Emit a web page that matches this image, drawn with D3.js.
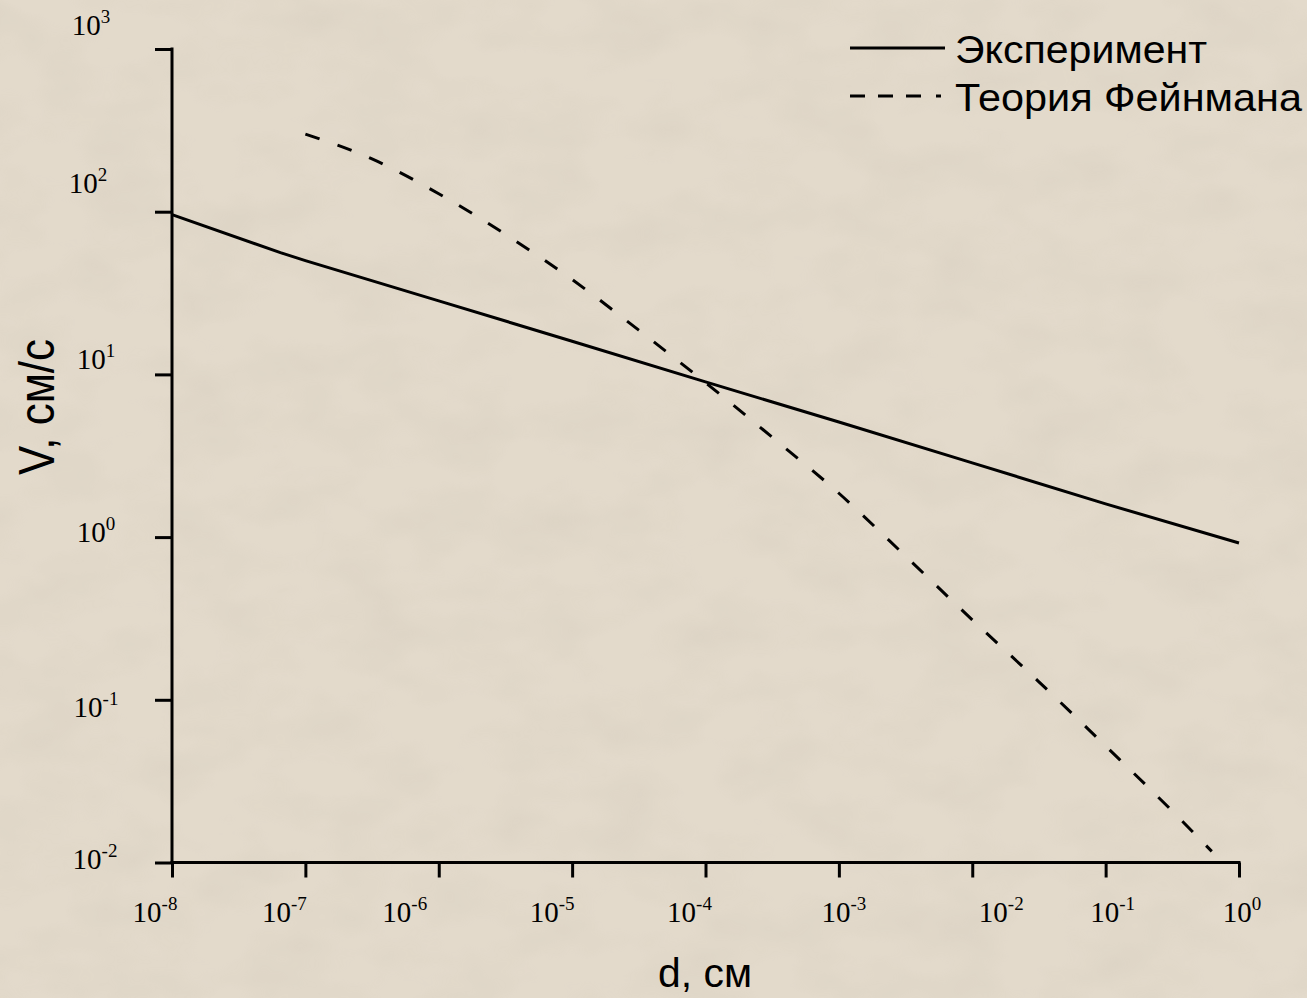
<!DOCTYPE html>
<html>
<head>
<meta charset="utf-8">
<script src="https://cdn.jsdelivr.net/npm/d3@7"></script>
<style>
  html, body { margin: 0; padding: 0; background: #e2d9ca; }
  svg { display: block; }
</style>
</head>
<body>
<svg id="chart" width="1307" height="998"></svg>
<script>
// Measured drift velocity V (cm/s) against distance d (cm)
const expD = [1e-8, 6.5e-8, 1e-7, 1e-6, 1e-5, 1e-4, 1e-3, 1e-2, 1e-1, 1];
const expV = [96, 56, 50, 28.3, 16.0, 9.0, 5.1, 2.86, 1.6, 0.92];

// Feynman's theoretical prediction
const feyD = [1e-7, 3.16e-7, 1e-6, 3.16e-6, 1e-5, 3.16e-5, 1e-4, 3.16e-4, 1e-3,
              3.16e-3, 1e-2, 3.16e-2, 1e-1, 3.16e-1, 0.625];
const feyV = [300, 211, 129, 72.6, 38.3, 18.7, 8.9, 4.11, 1.86,
              0.764, 0.31, 0.129, 0.052, 0.0207, 0.0117];

// Decade ticks
const xTicks = [1e-8, 1e-7, 1e-6, 1e-5, 1e-4, 1e-3, 1e-2, 1e-1, 1];
const xExp = ["-8", "-7", "-6", "-5", "-4", "-3", "-2", "-1", "0"];
const yTicks = [1e-2, 1e-1, 1, 10, 100, 1000];
const yExp = ["-2", "-1", "0", "1", "2", "3"];

const seriesNames = ["Эксперимент", "Теория Фейнмана"];
const xTitle = "d, см";
const yTitle = "V, см/с";

// Hand placement of the tick captions relative to their ticks (px)
const xLabelNudge = [-17, -21, -34, -20, -16, 5, 29, 7, 3];
const yLabelNudge = [[-2, 6], [-1, 17], [-1, 5], [-1, -5], [-9, -19], [-6, -14]];

const svg = d3.select("#chart");
const W = 1307, H = 998;

// paper-like mottled backdrop
const defs = svg.append("defs");
const f = defs.append("filter").attr("id", "paper")
  .attr("x", 0).attr("y", 0).attr("width", "100%").attr("height", "100%");
f.append("feTurbulence").attr("type", "fractalNoise")
  .attr("baseFrequency", "0.012 0.02").attr("numOctaves", 3).attr("seed", 7);
f.append("feColorMatrix").attr("type", "matrix")
  .attr("values", "0 0 0 0 0.55  0 0 0 0 0.5  0 0 0 0 0.42  0 0 0 -0.9 0.55");
svg.append("rect").attr("width", W).attr("height", H).attr("fill", "#e3dacb");
svg.append("rect").attr("width", W).attr("height", H).attr("filter", "url(#paper)").attr("opacity", 0.4);

const x = d3.scaleLog().domain([1e-8, 1]).range([172, 1239]);
const y = d3.scaleLog().domain([1e-2, 1e3]).range([862.5, 49]);

// axes
const gx = svg.append("g").attr("transform", `translate(0,${y.range()[0]})`)
  .call(d3.axisBottom(x).tickValues(xTicks).tickFormat("").tickSize(15).tickSizeOuter(0));
const gy = svg.append("g").attr("transform", `translate(${x.range()[0]},0)`)
  .call(d3.axisLeft(y).tickValues(yTicks).tickFormat("").tickSize(17).tickSizeOuter(0));
[gx, gy].forEach(g => {
  g.select(".domain").attr("stroke", "#000").attr("stroke-width", 3);
  g.selectAll(".tick line").attr("stroke", "#000").attr("stroke-width", 3);
});
gx.select(".domain").attr("d", `M${x.range()[0] - 1.5},0H${x.range()[1] + 1.5}`);
gy.select(".domain").attr("d", `M0,${y.range()[1] - 1.5}V${y.range()[0] + 1.5}`);

// tick captions: 10 with a raised exponent
function power(sel, exp) {
  sel.append("tspan").text("10");
  sel.append("tspan").attr("dy", -12).attr("font-size", 19).text(exp);
}
const serif = "'Liberation Serif', 'Times New Roman', serif";
xTicks.forEach((t, i) => {
  svg.append("text")
    .attr("x", x(t) + xLabelNudge[i]).attr("y", 922)
    .attr("text-anchor", "middle").attr("font-family", serif).attr("font-size", 29)
    .call(power, xExp[i]);
});
yTicks.forEach((t, i) => {
  svg.append("text")
    .attr("x", 97 + yLabelNudge[i][0]).attr("y", y(t) + yLabelNudge[i][1])
    .attr("text-anchor", "middle").attr("font-family", serif).attr("font-size", 29)
    .call(power, yExp[i]);
});

// series
const line = d3.line().x(d => x(d[0])).y(d => y(d[1]));
svg.append("path")
  .datum(d3.zip(expD, expV))
  .attr("d", line)
  .attr("fill", "none").attr("stroke", "#000").attr("stroke-width", 3)
  .attr("stroke-linejoin", "round");
svg.append("path")
  .datum(d3.zip(feyD, feyV))
  .attr("d", line.curve(d3.curveMonotoneX))
  .attr("fill", "none").attr("stroke", "#000").attr("stroke-width", 3)
  .attr("stroke-dasharray", "15 19");

// axis titles
const sans = "'Liberation Sans', Arial, sans-serif";
svg.append("text").attr("x", 705).attr("y", 987)
  .attr("text-anchor", "middle").attr("font-family", sans).attr("font-size", 40)
  .attr("textLength", 94).attr("lengthAdjust", "spacingAndGlyphs")
  .text(xTitle);
svg.append("text").attr("transform", "translate(54,407) rotate(-90)")
  .attr("text-anchor", "middle").attr("font-family", sans).attr("font-size", 50)
  .attr("textLength", 136).attr("lengthAdjust", "spacingAndGlyphs")
  .text(yTitle);

// legend
const leg = svg.append("g");
leg.append("line").attr("x1", 850).attr("x2", 945).attr("y1", 48).attr("y2", 48)
  .attr("stroke", "#000").attr("stroke-width", 3);
leg.append("line").attr("x1", 850).attr("x2", 942).attr("y1", 96).attr("y2", 96)
  .attr("stroke", "#000").attr("stroke-width", 3)
  .attr("stroke-dasharray", "15 13 15 13 15 15 5 20");
leg.append("text").attr("x", 955).attr("y", 63)
  .attr("font-family", sans).attr("font-size", 39)
  .attr("textLength", 252).attr("lengthAdjust", "spacingAndGlyphs")
  .text(seriesNames[0]);
leg.append("text").attr("x", 955).attr("y", 111)
  .attr("font-family", sans).attr("font-size", 39)
  .attr("textLength", 347).attr("lengthAdjust", "spacingAndGlyphs")
  .text(seriesNames[1]);
</script>
</body>
</html>
